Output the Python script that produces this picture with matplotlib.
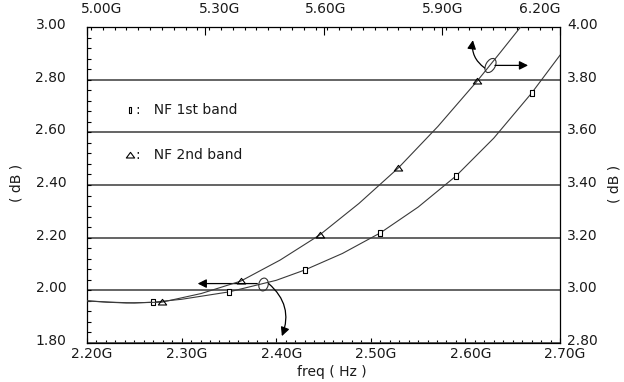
import numpy as np
import matplotlib
matplotlib.use('Agg')
import matplotlib.pyplot as plt
from matplotlib.path import Path
from matplotlib.transforms import Affine2D, ScaledTranslation
from matplotlib.ticker import MultipleLocator, FuncFormatter

# --- NF 1st band (bottom freq axis, left dB axis) ---
band1_freq = [2.20, 2.225, 2.25, 2.27, 2.30, 2.35, 2.40, 2.43, 2.47, 2.51,
              2.55, 2.59, 2.63, 2.67, 2.70]
band1_nf = [1.960, 1.955, 1.952, 1.955, 1.966, 1.994, 2.038, 2.077, 2.140,
            2.218, 2.316, 2.434, 2.578, 2.749, 2.893]
band1_mark_freq = [2.27, 2.35, 2.43, 2.51, 2.59, 2.67]
band1_mark_nf = [1.955, 1.994, 2.077, 2.218, 2.434, 2.749]

# --- NF 2nd band (top freq axis, right dB axis) ---
band2_freq = [5.00, 5.05, 5.10, 5.19, 5.29, 5.39, 5.49, 5.59, 5.69, 5.79,
              5.89, 5.99, 6.05, 6.10]
band2_nf = [2.960, 2.955, 2.952, 2.955, 2.988, 3.035, 3.115, 3.210, 3.330,
            3.465, 3.622, 3.795, 3.906, 4.000]
band2_mark_freq = [5.19, 5.39, 5.59, 5.79, 5.99]
band2_mark_nf = [2.955, 3.035, 3.210, 3.465, 3.795]

bottom_ticks = [2.20, 2.30, 2.40, 2.50, 2.60, 2.70]
top_ticks = [5.00, 5.30, 5.60, 5.90, 6.20]
left_ticks = [1.80, 2.00, 2.20, 2.40, 2.60, 2.80, 3.00]
right_ticks = [2.80, 3.00, 3.20, 3.40, 3.60, 3.80, 4.00]

legend_labels = [':   NF 1st band', ':   NF 2nd band']

plt.rcParams['font.family'] = ['DejaVu Sans']
plt.rcParams['font.size'] = 10
TXT = '#1a1a1a'
LINE = '#3a3a3a'

fig = plt.figure(figsize=(6.24, 3.82), dpi=100)
pos = [87 / 624, 1 - 343 / 382, 473 / 624, 316 / 382]
ax = fig.add_axes(pos)
ax2 = fig.add_axes(pos, frameon=False)
ax2.patch.set_visible(False)

rect_marker = Path([(-0.5, -1), (0.5, -1), (0.5, 1), (-0.5, 1), (-0.5, -1)],
                   closed=True)
tri_marker = Path([(0, 0.75), (-1, -0.6), (1, -0.6), (0, 0.75)], closed=True)
circ = Path.unit_circle()

# curves
ax.plot(band1_freq, band1_nf, color=LINE, lw=0.8, zorder=3)
ax.plot(band1_mark_freq, band1_mark_nf, ls='none', marker=rect_marker, ms=4.5,
        mfc='white', mec='black', mew=0.8, zorder=4)
ax2.plot(band2_freq, band2_nf, color=LINE, lw=0.8, zorder=3)
ax2.plot(band2_mark_freq, band2_mark_nf, ls='none', marker=tri_marker, ms=6,
         mfc='none', mec='black', mew=0.8, zorder=4)

# axis limits / ticks
ax.set_xlim(bottom_ticks[0], bottom_ticks[-1])
ax.set_ylim(left_ticks[0], left_ticks[-1])
ax2.set_xlim(top_ticks[0], top_ticks[-1])
ax2.set_ylim(right_ticks[0], right_ticks[-1])

fmt_g = FuncFormatter(lambda v, p: f'{v:.2f}G')
ax.set_xticks(bottom_ticks)
ax.xaxis.set_major_formatter(fmt_g)
ax.xaxis.set_minor_locator(MultipleLocator(0.01))
ax.set_yticks(left_ticks)
ax.yaxis.set_major_formatter(FuncFormatter(lambda v, p: f'{v:.2f}'))
ax.yaxis.set_minor_locator(MultipleLocator(0.04))

ax2.xaxis.tick_top()
ax2.yaxis.tick_right()
ax2.set_xticks(top_ticks)
ax2.xaxis.set_major_formatter(fmt_g)
ax2.xaxis.set_minor_locator(MultipleLocator(0.03))
ax2.set_yticks(right_ticks)
ax2.yaxis.set_major_formatter(FuncFormatter(lambda v, p: f'{v:.2f}'))

ax.tick_params(axis='x', which='major', direction='in', length=3.6, width=0.8,
               pad=3, labelcolor=TXT)
ax.tick_params(axis='x', which='minor', direction='in', length=2.2, width=0.8)
ax.tick_params(axis='y', which='both', direction='in', length=3, width=0.8,
               pad=15, labelcolor=TXT)
ax2.tick_params(axis='x', which='major', direction='in', length=5.5, width=0.8,
                pad=8, labelcolor=TXT)
ax2.tick_params(axis='x', which='minor', direction='in', length=2.2, width=0.8)
ax2.tick_params(axis='y', which='both', length=0, pad=5, labelcolor=TXT)

for s in ax.spines.values():
    s.set_linewidth(0.9)
    s.set_color('black')

ax.grid(axis='y', which='major', color='#4a4a4a', lw=1.2)
ax.set_axisbelow(True)

# label nudges, as in the reference
for t in ax.xaxis.get_major_ticks():
    t.label1.set_transform(t.label1.get_transform() +
                           ScaledTranslation(0.05, 0, fig.dpi_scale_trans))
top_shift = [0.15, 0.14, 0.02, 0.01, -0.20]
for t, dx in zip(ax2.xaxis.get_major_ticks(), top_shift):
    t.label2.set_transform(t.label2.get_transform() +
                           ScaledTranslation(dx, 0, fig.dpi_scale_trans))
for t in ax.yaxis.get_major_ticks():
    t.label1.set_transform(t.label1.get_transform() +
                           ScaledTranslation(0, 0.035, fig.dpi_scale_trans))
for t in ax2.yaxis.get_major_ticks():
    t.label2.set_transform(t.label2.get_transform() +
                           ScaledTranslation(0, 0.035, fig.dpi_scale_trans))

# axis titles
fig.text(332 / 624, 1 - 372 / 382, 'freq ( Hz )', ha='center', va='center',
         color=TXT)
fig.text(16 / 624, 1 - 183 / 382, '( dB )', ha='center', va='center',
         rotation=90, color=TXT)
fig.text(615 / 624, 1 - 184 / 382, '( dB )', ha='center', va='center',
         rotation=90, color=TXT)

# legend text
ax.plot([0.091], [0.737], transform=ax.transAxes, marker=rect_marker, ms=4,
        mfc='white', mec='black', mew=0.8, ls='none')
ax.plot([0.091], [0.595], transform=ax.transAxes, marker=tri_marker, ms=6,
        mfc='none', mec='black', mew=0.8, ls='none')
ax.text(0.104, 0.737, legend_labels[0], transform=ax.transAxes, va='center',
        color=TXT)
ax.text(0.104, 0.595, legend_labels[1], transform=ax.transAxes, va='center',
        color=TXT)

# axis-owner markers: circle on curve with arrows towards its axes
f1 = 2.386
v1 = np.interp(f1, band1_freq, band1_nf)
ell1 = circ.transformed(Affine2D().scale(0.72, 1).rotate_deg(-12))
ax.plot([f1], [v1], marker=ell1, ms=9.5, mfc='none', mec='#333', mew=0.8,
        zorder=5)
arrow = dict(arrowstyle='-|>', color='black', lw=0.9, mutation_scale=13,
             shrinkA=0, shrinkB=0)
ax.annotate('', xy=(2.317, v1), xytext=(f1 - 0.006, v1),
            arrowprops=arrow, zorder=5)
ax.annotate('', xy=(2.406, 1.826), xytext=(f1 + 0.006, v1),
            arrowprops=dict(arrow, connectionstyle='arc3,rad=-0.35'), zorder=5)

f2 = 6.022
v2 = np.interp(f2, band2_freq, band2_nf)
ell2 = circ.transformed(Affine2D().scale(0.6, 1).rotate_deg(-30))
ax2.plot([f2], [v2], marker=ell2, ms=10.5, mfc='none', mec='#333', mew=0.8,
         zorder=5)
ax2.annotate('', xy=(6.119, v2), xytext=(f2 + 0.013, v2),
             arrowprops=arrow, zorder=5)
ax2.annotate('', xy=(5.979, 3.950), xytext=(f2 - 0.013, v2 - 0.01),
             arrowprops=dict(arrow, connectionstyle='arc3,rad=-0.3'), zorder=5)

fig.savefig('out.png', dpi=100)
